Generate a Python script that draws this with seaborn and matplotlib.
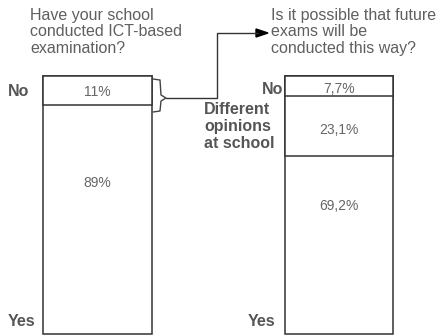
import seaborn as sns
import pandas as pd
import matplotlib.pyplot as plt
from matplotlib.lines import Line2D

# data
questions = ["Have your school\nconducted ICT-based\nexamination?",
             "Is it possible that future\nexams will be\nconducted this way?"]
q1_answers = ["No", "Yes"]
q1_values = [11.0, 89.0]
q2_answers = ["No", "Different opinions at school", "Yes"]
q2_values = [7.7, 23.1, 69.2]
q1_labels = ["11%", "89%"]
q2_labels = ["7,7%", "23,1%", "69,2%"]

sns.set_theme(style="white")
plt.rcParams['font.family'] = ['Liberation Sans', 'DejaVu Sans']

W, H = 447, 335
fig = plt.figure(figsize=(W / 100, H / 100), dpi=100)
ax = fig.add_axes([0, 0, 1, 1])


def px(x, y):
    return x / W, 1 - y / H


# stacked bars from the top: cumulative layers, largest drawn first
rows = []
cum = 0
for a, v in zip(q1_answers, q1_values):
    cum += v
    rows.append(("q1", a, cum))
cum = 0
for a, v in zip(q2_answers, q2_values):
    cum += v
    rows.append(("q2", a, cum))
df = pd.DataFrame(rows, columns=["q", "answer", "cum"])
df = df.sort_values("cum", ascending=False)

for rank in range(3):
    layer = df.groupby("q").nth(rank)
    if layer.empty:
        continue
    sns.barplot(data=layer, x="q", y="cum", order=["q1", "q2"], width=0.45,
                color="white", edgecolor="#333333", linewidth=1.1,
                saturation=1, ax=ax)

ax.set_xlim(-0.404, 1.447)
ax.set_ylim(100.2, -29.6)
ax.axis("off")

qcol = "#5f5f5f"
lcol = "#555555"
fig.text(*px(30, 8), questions[0], fontsize=11.5, color=qcol, va="top", ha="left",
         linespacing=1.12)
fig.text(*px(271, 8), questions[1], fontsize=11.5, color=qcol, va="top", ha="left",
         linespacing=1.12)

bold = dict(fontsize=11.5, fontweight="bold", color=lcol)
fig.text(*px(8, 91), "No", va="center", ha="left", **bold)
fig.text(*px(8, 321), "Yes", va="center", ha="left", **bold)
fig.text(*px(283, 89), "No", va="center", ha="right", **bold)
fig.text(*px(275, 321), "Yes", va="center", ha="right", **bold)
fig.text(*px(204, 102), "Different\nopinions\nat school", va="top", ha="left",
         linespacing=1.15, **bold)

pcol = "#666666"
for lab, y in zip(q1_labels, [92, 183]):
    fig.text(*px(97, y), lab, fontsize=10, color=pcol, ha="center", va="center")
for lab, y in zip(q2_labels, [89, 130, 206]):
    fig.text(*px(339, y), lab, fontsize=10, color=pcol, ha="center", va="center")

# bracket and arrow
bx = [153, 160, 161, 166, 161, 160, 153]
by = [79, 80, 95, 98, 101, 111, 112]
fig.add_artist(Line2D([px(x, 0)[0] for x in bx], [px(0, y)[1] for y in by],
                      color="#444444", lw=1))
lx = [166, 217, 217, 258]
ly = [98, 98, 33, 33]
fig.add_artist(Line2D([px(x, 0)[0] for x in lx], [px(0, y)[1] for y in ly],
                      color="#333333", lw=1))
fig.add_artist(plt.Polygon([px(256, 29), px(268, 33), px(256, 37)], closed=True,
                           color="black", transform=fig.transFigure))

fig.savefig("out.png", dpi=100)
